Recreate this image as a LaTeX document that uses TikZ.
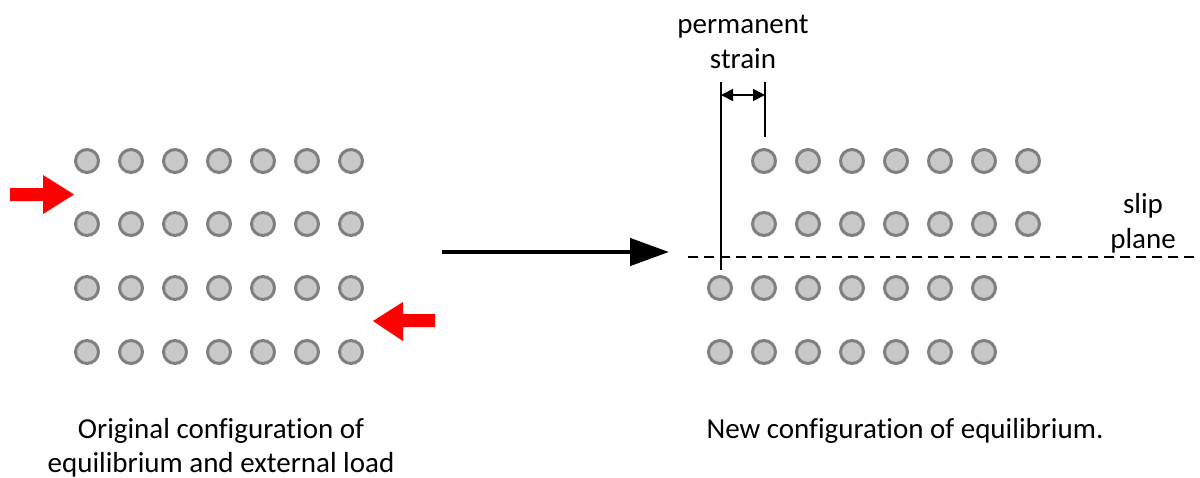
\documentclass[tikz,border=0pt]{standalone}
\usepackage{fontspec}
\setmainfont{Carlito}[Ligatures=NoCommon]
\usetikzlibrary{arrows.meta}
\definecolor{atomfill}{HTML}{C8C8C8}
\definecolor{atomedge}{HTML}{7F7F7F}
\begin{document}
\begin{tikzpicture}[x=1pt,y=-1pt,
  atom/.style={circle,draw=atomedge,fill=atomfill,line width=3pt,minimum size=23pt,inner sep=0pt},
  lbl/.style={font=\fontsize{29}{35}\selectfont,text=black,inner sep=0pt,anchor=base},
  loadarrow/.style={fill=red},
  guide/.style={draw=black,line width=1.6pt},
  slipline/.style={draw=black,line width=1.6pt,dash pattern=on 10pt off 6pt},
  mainarrow/.style={draw=black,line width=4.5pt,-{Triangle[length=39pt,width=27pt]}},
  strainarrow/.style={draw=black,line width=1.6pt,{Triangle[length=12pt,width=12pt]}-{Triangle[length=12pt,width=12pt]}}]
\useasboundingbox (0,0) rectangle (1200,477);
% left lattice
\foreach \r/\y in {1/161,2/224,3/288,4/352}{
  \foreach \c in {1,...,7}{
    \node[atom] (L-\r-\c) at ({87+44*(\c-1)},\y) {};
  }
}
% right lattice (upper rows shifted)
\foreach \r/\y in {1/161,2/224}{
  \foreach \c in {1,...,7}{
    \node[atom] (R-\r-\c) at ({764+44*(\c-1)},\y) {};
  }
}
\foreach \r/\y in {3/288,4/352}{
  \foreach \c in {1,...,7}{
    \node[atom] (R-\r-\c) at ({720+44*(\c-1)},\y) {};
  }
}
% external load arrows
\fill[loadarrow] (10,188) -- (43,188) -- (43,175) -- (74,194.5) -- (43,214) -- (43,201) -- (10,201) -- cycle;
\fill[loadarrow] (435,314) -- (403,314) -- (403,302) -- (373,321) -- (403,341) -- (403,327) -- (435,327) -- cycle;
% main arrow
\coordinate (mA) at (442,252);
\coordinate (mB) at (669,252);
\draw[mainarrow] (mA) -- (mB);
% slip plane
\coordinate (sA) at (688,257);
\coordinate (sB) at (1200,257);
\draw[slipline] (sA) -- (sB);
% permanent strain guides
\coordinate (g1t) at (721,82);
\coordinate (g1b) at (721,270);
\coordinate (g2t) at (765,82);
\coordinate (g2b) at (765,137);
\draw[guide] (g1t) -- (g1b);
\draw[guide] (g2t) -- (g2b);
\coordinate (d1) at (721,95);
\coordinate (d2) at (765,95);
\draw[strainarrow] (d1) -- (d2);
% labels
\node[lbl] (ps1) at (743,33) {permanent};
\node[lbl] (ps2) at (743,68) {strain};
\node[lbl] (sp1) at (1143,213) {slip};
\node[lbl] (sp2) at (1143,248) {plane};
\node[lbl] (oc1) at (221,438) {Original configuration of};
\node[lbl] (oc2) at (221,472) {equilibrium and external load};
\node[lbl] (nc1) at (905,438) {New configuration of equilibrium.};
\end{tikzpicture}
\end{document}
